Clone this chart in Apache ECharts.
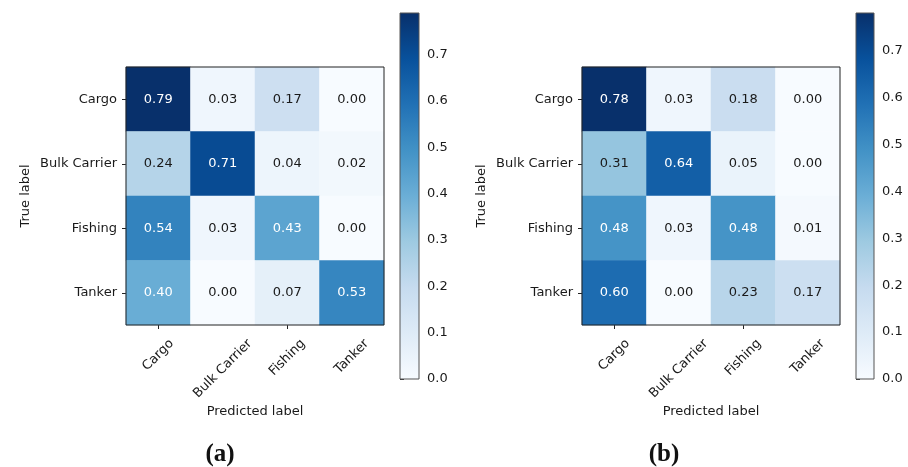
<!DOCTYPE html>
<html>
<head>
<meta charset="utf-8">
<script src="https://cdn.jsdelivr.net/npm/echarts@6/dist/echarts.min.js"></script>
<style>
  html, body { margin: 0; padding: 0; background: #fff; }
  #chart { width: 908px; height: 467px; }
</style>
</head>
<body>
<div id="chart"></div>
<script>
// Class labels shared by both confusion matrices
const categories = ['Cargo', 'Bulk Carrier', 'Fishing', 'Tanker'];

// Row = true label, column = predicted label (normalized)
const matrixA = [
  [0.79, 0.03, 0.17, 0.00],
  [0.24, 0.71, 0.04, 0.02],
  [0.54, 0.03, 0.43, 0.00],
  [0.40, 0.00, 0.07, 0.53]
];
const matrixB = [
  [0.78, 0.03, 0.18, 0.00],
  [0.31, 0.64, 0.05, 0.00],
  [0.48, 0.03, 0.48, 0.01],
  [0.60, 0.00, 0.23, 0.17]
];

// Colorbar tick values
const colorbarTicks = [0.0, 0.1, 0.2, 0.3, 0.4, 0.5, 0.6, 0.7];

// Panel captions
const panelLabels = ['(a)', '(b)'];

// Matplotlib "Blues" colormap stops
const blues = ['#f7fbff', '#deebf7', '#c6dbef', '#9ecae1', '#6baed6',
               '#4292c6', '#2171b5', '#08519c', '#08306b'];

const FONT = '"DejaVu Sans", sans-serif';
const TEXT = '#1a1a1a';

function toCells(m) {
  const out = [];
  m.forEach((row, r) => row.forEach((v, c) => out.push([c, r, v])));
  return out;
}
function maxOf(m) { return Math.max.apply(null, m.flat()); }

const measureCtx = document.createElement('canvas').getContext('2d');
measureCtx.font = '13px ' + FONT;

function heatSeries(m, gridIdx) {
  const vmax = maxOf(m);
  return {
    type: 'heatmap',
    xAxisIndex: gridIdx, yAxisIndex: gridIdx,
    data: toCells(m),
    silent: true,
    label: {
      show: true,
      formatter: p => (p.value[2] > vmax / 2 ? '{w|' : '{k|') + p.value[2].toFixed(2) + '}',
      rich: {
        w: { color: '#ffffff', fontSize: 13, fontFamily: FONT },
        k: { color: TEXT, fontSize: 13, fontFamily: FONT }
      }
    },
    emphasis: { disabled: true }
  };
}

function colorbarSeries(m, gridIdx) {
  const vmax = maxOf(m);
  return {
    type: 'custom',
    xAxisIndex: gridIdx, yAxisIndex: gridIdx,
    silent: true,
    data: [[0, 0, 1, vmax]],
    renderItem: (params, api) => {
      const p0 = api.coord([api.value(0), api.value(1)]);
      const p1 = api.coord([api.value(2), api.value(3)]);
      const stops = blues.map((c, i) => ({ offset: i / (blues.length - 1), color: c }));
      return {
        type: 'rect',
        shape: { x: p0[0], y: p1[1], width: p1[0] - p0[0], height: p0[1] - p1[1] },
        style: { fill: new echarts.graphic.LinearGradient(0, 1, 0, 0, stops) }
      };
    }
  };
}

// Rotated predicted-label tick texts, centred under each tick like matplotlib
function xLabelSeries(gridIdx) {
  return {
    type: 'custom',
    xAxisIndex: gridIdx, yAxisIndex: gridIdx,
    silent: true,
    clip: false,
    z: 10,
    data: categories.map((c, i) => [i]),
    renderItem: (params, api) => {
      const i = api.value(0);
      const text = categories[i];
      const p = api.coord([i, 0]);
      const bottom = params.coordSys.y + params.coordSys.height;
      const w = measureCtx.measureText(text).width;
      const h = 13;
      const k = Math.SQRT1_2 / 2;
      return {
        type: 'text',
        x: p[0] + k * w,
        y: bottom + 12 + k * h,
        rotation: Math.PI / 4,
        style: {
          text: text, fill: TEXT, font: '13px ' + FONT,
          align: 'right', verticalAlign: 'middle'
        }
      };
    }
  };
}

const heatGrids = [
  { left: 126, top: 67, width: 258, height: 258 },
  { left: 582, top: 67, width: 258, height: 258 }
];
const barGrids = [
  { left: 400, top: 13, width: 19, height: 366 },
  { left: 856, top: 13, width: 18, height: 366 }
];

const grid = [];
const xAxis = [];
const yAxis = [];
[matrixA, matrixB].forEach((m, k) => {
  const vmax = maxOf(m);
  grid.push(Object.assign({ show: true, z: 10, borderColor: '#222', borderWidth: 1, backgroundColor: 'transparent' }, heatGrids[k]));
  xAxis.push({
    type: 'category', gridIndex: 2 * k, data: categories,
    name: 'Predicted label', nameLocation: 'middle', nameGap: 80,
    nameTextStyle: { fontFamily: FONT, fontSize: 13, color: TEXT },
    axisLine: { show: false },
    axisTick: { show: true, alignWithLabel: true, length: 4, lineStyle: { color: '#222' } },
    axisLabel: { show: false },
    splitLine: { show: false }
  });
  yAxis.push({
    type: 'category', gridIndex: 2 * k, data: categories, inverse: true,
    name: 'True label', nameLocation: 'middle', nameGap: 94, nameRotate: 90,
    nameTextStyle: { fontFamily: FONT, fontSize: 13, color: TEXT },
    axisLine: { show: false },
    axisTick: { show: true, alignWithLabel: true, length: 4, lineStyle: { color: '#222' } },
    axisLabel: { fontFamily: FONT, fontSize: 13, color: TEXT, margin: 9 },
    splitLine: { show: false }
  });
  grid.push(Object.assign({ show: true, z: 10, borderColor: '#555', borderWidth: 1, backgroundColor: 'transparent' }, barGrids[k]));
  xAxis.push({ type: 'value', gridIndex: 2 * k + 1, min: 0, max: 1, show: false });
  yAxis.push({
    type: 'value', gridIndex: 2 * k + 1, min: 0, max: vmax, position: 'right',
    axisLine: { show: false },
    axisTick: { show: true, length: 4, customValues: colorbarTicks, lineStyle: { color: '#333' } },
    axisLabel: { fontFamily: FONT, fontSize: 13, color: TEXT, margin: 8,
                 customValues: colorbarTicks, formatter: v => v.toFixed(1) },
    splitLine: { show: false }
  });
});

const option = {
  animation: false,
  backgroundColor: '#ffffff',
  title: panelLabels.map((t, k) => ({
    text: t,
    left: [215, 659][k], top: 437, textAlign: 'center',
    textStyle: { fontFamily: '"Liberation Serif", serif', fontWeight: 'bold', fontSize: 25, color: '#111' }
  })),
  grid: grid,
  xAxis: xAxis,
  yAxis: yAxis,
  visualMap: [matrixA, matrixB].map((m, k) => ({
    type: 'continuous', show: false, min: 0, max: maxOf(m),
    seriesIndex: k, dimension: 2, inRange: { color: blues }
  })),
  series: [
    heatSeries(matrixA, 0),
    heatSeries(matrixB, 2),
    colorbarSeries(matrixA, 1),
    colorbarSeries(matrixB, 3),
    xLabelSeries(0),
    xLabelSeries(2)
  ]
};

const chart = echarts.init(document.getElementById('chart'), null, { renderer: 'canvas' });
chart.setOption(option);
</script>
</body>
</html>
